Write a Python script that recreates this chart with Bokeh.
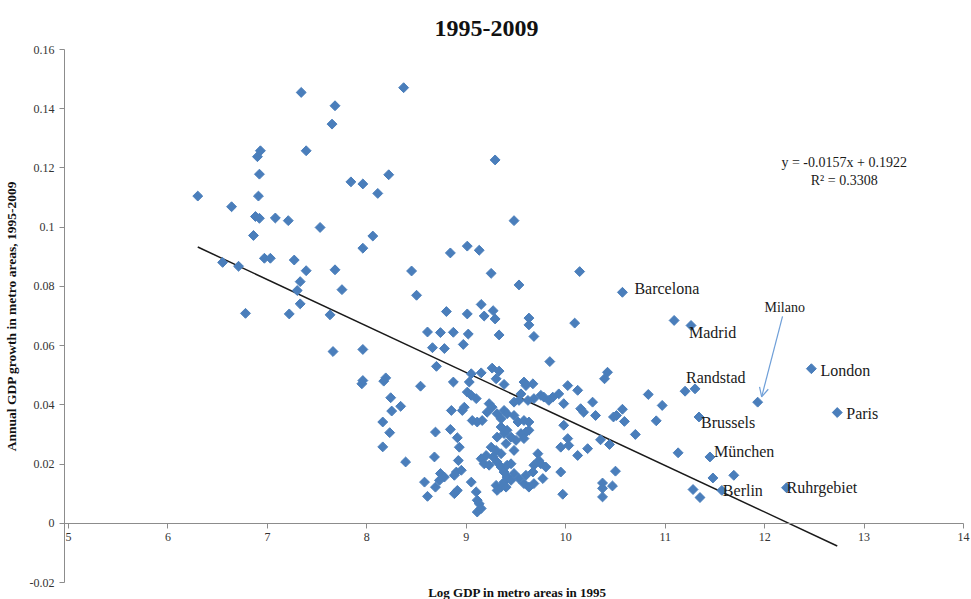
import math
from bokeh.plotting import figure
from bokeh.models import (Range1d, FixedTicker, CustomJSTickFormatter, Title, Label,
                          Arrow, OpenHead, ColumnDataSource)
from bokeh.embed import file_html
from bokeh.resources import INLINE
from bokeh.core.properties import value

# ---------------- data ----------------
chart_title = "1995-2009"
x_label = "Log GDP in metro areas in 1995"
y_label = "Annual GDP growth in metro areas, 1995-2009"

x_ticks = [5, 6, 7, 8, 9, 10, 11, 12, 13, 14]
y_ticks = [-0.02, 0, 0.02, 0.04, 0.06, 0.08, 0.1, 0.12, 0.14, 0.16]

# unlabeled metro areas: log GDP 1995 / annual growth
metro_x = [
    6.30, 6.64, 6.55, 6.71, 6.78, 6.86, 6.88, 6.92, 6.91, 6.92, 6.90, 6.93, 6.97, 7.03, 7.08, 7.21,
    7.27, 7.22, 7.33, 7.30, 7.33, 7.34, 7.39, 7.39, 7.53, 7.63, 7.65, 7.68, 7.68, 7.75, 7.66, 7.84,
    7.96, 7.96, 8.06, 8.11, 8.22, 7.96, 7.95, 7.96, 8.19, 8.17, 8.24, 8.25, 8.34, 8.16, 8.23, 8.16,
    8.39, 8.37, 8.45, 8.50, 8.54, 9.29, 9.48, 8.84, 9.01, 9.13, 9.25, 10.14, 9.53, 8.80, 9.01, 9.15,
    9.18, 9.27, 9.29, 9.63, 9.63, 9.68, 10.09, 8.61, 8.74, 8.87, 9.02, 9.33, 8.66, 8.78, 8.97, 9.84,
    11.09, 11.20, 11.13, 11.48, 11.69, 11.28, 11.35, 10.83, 10.97, 10.91, 10.70, 10.42, 10.39, 10.57,
    10.48, 10.51, 10.59, 10.50, 10.47, 10.37, 10.37, 10.37, 8.70, 8.87, 9.03, 9.05, 9.15, 9.26, 9.33,
    9.30, 9.38, 9.01, 9.05, 9.10, 9.23, 9.26, 9.21, 8.85, 8.96, 8.98, 9.06, 9.11, 9.16, 9.38, 9.35,
    9.31, 9.38, 9.41, 8.69, 8.84, 8.91, 8.93, 9.25, 9.30, 9.35, 9.20, 9.15, 9.27, 9.18, 9.23, 9.31,
    8.68, 8.92, 8.74, 8.78, 8.73, 8.69, 8.90, 8.95, 8.88, 8.58, 8.61, 9.05, 8.88, 8.91, 9.10, 9.11,
    9.13, 9.11, 9.15, 9.30, 9.35, 9.31, 9.38, 9.41, 9.35, 9.38, 9.41, 9.58, 9.67, 9.60, 10.02, 10.12,
    9.93, 9.75, 9.78, 9.83, 9.87, 9.68, 9.62, 9.55, 9.53, 9.48, 9.98, 10.27, 10.15, 10.18, 10.30,
    9.41, 9.31, 9.35, 9.48, 9.52, 9.58, 9.63, 9.98, 9.45, 9.55, 9.60, 9.63, 10.02, 10.03, 9.95, 10.22,
    10.12, 9.72, 9.73, 9.68, 9.75, 9.80, 9.67, 9.60, 9.58, 9.63, 9.68, 9.77, 9.95, 9.97, 9.40, 9.50,
    9.48, 9.58, 9.45, 9.48, 9.45, 9.53, 9.40, 10.35, 10.44,
]
metro_y = [
    0.1105, 0.1069, 0.0881, 0.0868, 0.0709, 0.0972, 0.1036, 0.1030, 0.1105, 0.1179, 0.1238, 0.1258,
    0.0895, 0.0895, 0.1031, 0.1022, 0.0889, 0.0707, 0.0816, 0.0786, 0.0741, 0.1455, 0.1258, 0.0853,
    0.0999, 0.0704, 0.1348, 0.1410, 0.0856, 0.0789, 0.0580, 0.1153, 0.1146, 0.0929, 0.0970, 0.1114,
    0.1177, 0.0587, 0.0471, 0.0482, 0.0491, 0.0480, 0.0424, 0.0379, 0.0395, 0.0342, 0.0306, 0.0258,
    0.0207, 0.1471, 0.0852, 0.0770, 0.0463, 0.1227, 0.1022, 0.0913, 0.0936, 0.0922, 0.0844, 0.0850,
    0.0805, 0.0715, 0.0707, 0.0739, 0.0700, 0.0718, 0.0690, 0.0693, 0.0670, 0.0631, 0.0676, 0.0646,
    0.0644, 0.0645, 0.0639, 0.0636, 0.0593, 0.0590, 0.0604, 0.0546, 0.0685, 0.0446, 0.0238, 0.0153,
    0.0162, 0.0114, 0.0087, 0.0435, 0.0398, 0.0346, 0.0300, 0.0510, 0.0488, 0.0385, 0.0359, 0.0364,
    0.0344, 0.0176, 0.0126, 0.0136, 0.0089, 0.0118, 0.0530, 0.0477, 0.0477, 0.0505, 0.0508, 0.0524,
    0.0514, 0.0488, 0.0469, 0.0443, 0.0432, 0.0421, 0.0404, 0.0392, 0.0375, 0.0381, 0.0381, 0.0392,
    0.0347, 0.0342, 0.0347, 0.0381, 0.0325, 0.0291, 0.0303, 0.0314, 0.0308, 0.0317, 0.0289, 0.0257,
    0.0257, 0.0246, 0.0235, 0.0229, 0.0218, 0.0224, 0.0201, 0.0196, 0.0207, 0.0224, 0.0212, 0.0168,
    0.0156, 0.0145, 0.0122, 0.0173, 0.0179, 0.0162, 0.0139, 0.0091, 0.0139, 0.0100, 0.0111, 0.0106,
    0.0078, 0.0066, 0.0038, 0.0050, 0.0128, 0.0122, 0.0111, 0.0139, 0.0156, 0.0190, 0.0173, 0.0196,
    0.0477, 0.0471, 0.0465, 0.0465, 0.0449, 0.0437, 0.0432, 0.0426, 0.0415, 0.0426, 0.0421, 0.0415,
    0.0437, 0.0415, 0.0409, 0.0404, 0.0409, 0.0387, 0.0375, 0.0364, 0.0370, 0.0370, 0.0353, 0.0364,
    0.0342, 0.0347, 0.0342, 0.0331, 0.0291, 0.0303, 0.0308, 0.0314, 0.0286, 0.0263, 0.0257, 0.0252,
    0.0229, 0.0235, 0.0212, 0.0196, 0.0201, 0.0190, 0.0173, 0.0162, 0.0134, 0.0122, 0.0134, 0.0151,
    0.0173, 0.0098, 0.0269, 0.0280, 0.0246, 0.0286, 0.0201, 0.0168, 0.0145, 0.0151, 0.0122, 0.0282,
    0.0266,
]

# labeled metro areas
city_names = ["Barcelona", "Madrid", "Randstad", "London", "Paris",
              "Brussels", "München", "Berlin", "Ruhrgebiet"]
city_x = [10.57, 11.26, 11.30, 12.47, 12.73, 11.34, 11.45, 11.57, 12.22]
city_y = [0.0780, 0.0668, 0.0454, 0.0522, 0.0374, 0.0359, 0.0224, 0.0111, 0.0120]

milano_name = "Milano"
milano_x = 11.93
milano_y = 0.0409

# linear trend reported in the chart
trend_slope = -0.0157
trend_intercept = 0.1922
trend_r2 = 0.3308

# ---------------- styling ----------------
SERIF = "Liberation Serif"
BLUE = "#4a7ebb"
AXIS_GRAY = "#8c8c8c"

# label placement (screen-pixel offsets from each point)
city_dx = [12, -2, -9, 9, 9, 2, 4, 1, 0]
city_dy = [-4, 7, -11, 2, 1, 6, -5, 0, 0]

p = figure(width=971, height=599, output_backend="svg", toolbar_location=None,
           x_range=Range1d(4.96, 14.07), y_range=Range1d(-0.02, 0.16),
           min_border_left=63, min_border_right=1, min_border_top=49, min_border_bottom=17,
           background_fill_color="white", border_fill_color="white")
p.outline_line_color = None
p.xgrid.grid_line_color = None
p.ygrid.grid_line_color = None

p.title.text = chart_title
p.title.align = "left"
p.title.offset = 370
p.title.standoff = 24
p.title.vertical_align = "top"
p.title.text_font = SERIF
p.title.text_font_size = "24px"
p.title.text_font_style = "bold"
p.title.text_color = "#111111"

# x axis drawn at y = 0
xa = p.xaxis[0]
xa.fixed_location = 0
xa.bounds = (4.96, 14)
xa.ticker = FixedTicker(ticks=x_ticks)
xa.axis_line_color = AXIS_GRAY
xa.major_tick_line_color = AXIS_GRAY
xa.major_tick_out = 5
xa.major_tick_in = 0
xa.minor_tick_line_color = None
xa.major_label_text_font = SERIF
xa.major_label_text_font_size = "12px"
xa.major_label_text_color = "#333333"
xa.major_label_standoff = 5

p.add_layout(Title(text=x_label, align="center", text_font=SERIF, text_font_size="13px",
                   text_font_style="bold", text_color="#111111", standoff=0), "below")

ya = p.yaxis[0]
ya.ticker = FixedTicker(ticks=y_ticks)
ya.formatter = CustomJSTickFormatter(code="return String(Math.round(tick*100)/100);")
ya.axis_line_color = AXIS_GRAY
ya.major_tick_line_color = AXIS_GRAY
ya.major_tick_out = 5
ya.major_tick_in = 0
ya.minor_tick_line_color = None
ya.major_label_text_font = SERIF
ya.major_label_text_font_size = "12px"
ya.major_label_text_color = "#333333"
ya.major_label_standoff = 5
ya.axis_label = y_label
ya.axis_label_text_font = SERIF
ya.axis_label_text_font_size = "13.5px"
ya.axis_label_text_font_style = "bold"
ya.axis_label_text_color = "#111111"
ya.axis_label_standoff = 8

# trend line across the data range
all_x = metro_x + city_x + [milano_x]
tx = [min(all_x), max(all_x)]
ty = [trend_intercept + trend_slope * v for v in tx]
p.line(tx, ty, line_color="#1a1a1a", line_width=1.5)

# points
p.scatter(metro_x, metro_y, marker="square", angle=math.pi / 4, size=7,
          fill_color=BLUE, line_color=BLUE)
p.scatter(city_x + [milano_x], city_y + [milano_y], marker="square", angle=math.pi / 4, size=7,
          fill_color=BLUE, line_color=BLUE)

# city labels
src = ColumnDataSource(dict(x=city_x, y=city_y, name=city_names, dx=city_dx, dy=city_dy))
p.text(x="x", y="y", text="name", x_offset="dx", y_offset="dy", source=src,
       text_font=value(SERIF), text_font_size="16px", text_color="#1a1a1a",
       text_align="left", text_baseline="middle")

# Milano with arrow
p.text(x=[milano_x], y=[milano_y], text=[milano_name], x_offset=27, y_offset=-95,
       text_font=value(SERIF), text_font_size="14px", text_color="#1a1a1a",
       text_align="center", text_baseline="middle")
p.add_layout(Arrow(end=OpenHead(size=9, line_color="#6f9fd8", line_width=1.2),
                   x_start=milano_x + 0.25, y_start=milano_y + 0.029,
                   x_end=milano_x + 0.04, y_end=milano_y + 0.0018,
                   line_color="#6f9fd8", line_width=1.2))

# trend equation
eq_text = "y = %.4fx + %.4f" % (trend_slope, trend_intercept)
r2_text = "R² = %.4f" % trend_r2
p.add_layout(Label(x=12.80, y=0.122, text=eq_text, text_align="center", text_baseline="middle",
                   text_font=SERIF, text_font_size="14px", text_color="#1a1a1a"))
p.add_layout(Label(x=12.80, y=0.1157, text=r2_text, text_align="center", text_baseline="middle",
                   text_font=SERIF, text_font_size="14px", text_color="#1a1a1a"))

open("out.html", "w").write(file_html(p, INLINE))
